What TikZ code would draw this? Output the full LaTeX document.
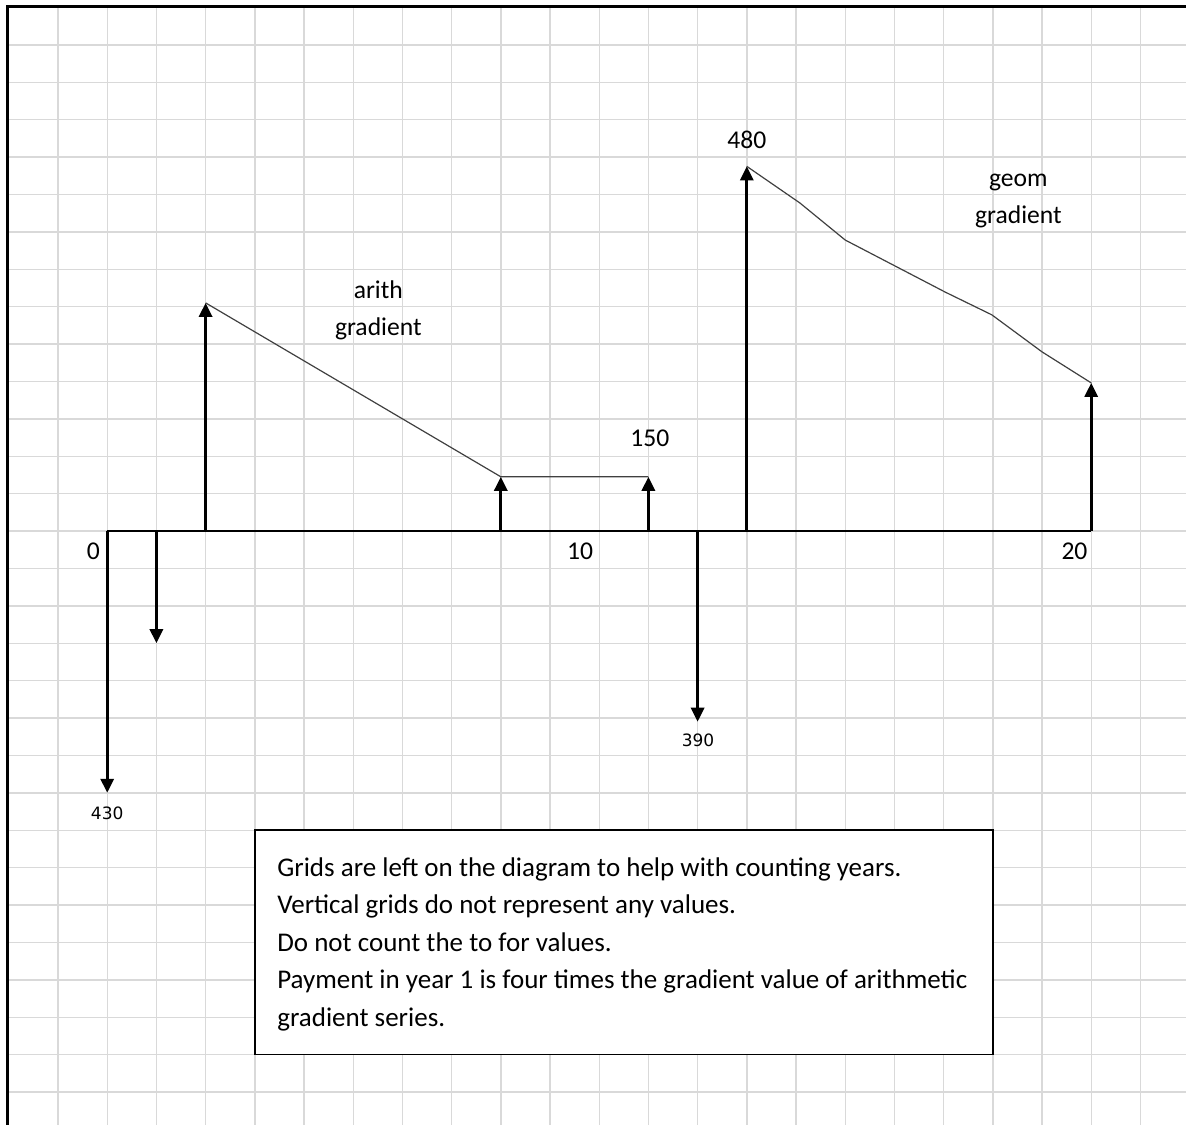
\documentclass[tikz,border=0pt]{standalone}
\usepackage{fontspec}
\setmainfont{Carlito}
\newfontfamily\smallfnt{DejaVu Sans}
\usetikzlibrary{arrows.meta}
\newcommand\lblsize{\fontsize{12.8}{18.5}\selectfont}
\tikzset{
  gridline/.style={draw=black!15, line width=0.7pt},
  framing/.style={line width=1.5pt, line cap=rect},
  flow/.style={line width=1.5pt, -{Triangle[width=6.5pt,length=7pt]}},
  trend/.style={draw=black!75, line width=0.6pt},
  lbl/.style={font=\lblsize, inner sep=0pt, align=center},
  amt/.style={font=\smallfnt\fontsize{8.5}{10}\selectfont, inner sep=0pt}
}
\begin{document}
\begin{tikzpicture}[x=24.6pt, y=18.7pt]
\useasboundingbox (-2.179,-15.88) rectangle (21.927,14.198);
% background grid
\foreach\x in{-1,...,21} \draw[gridline] (\x,-15.9)--(\x,14);
\foreach\y in{-15,...,13} \draw[gridline] (-2,\y)--(21.93,\y);
\draw[framing] (-2.02,-15.9)--(-2.02,14.02)--(21.93,14.02);
% time line
\coordinate (start) at (0,0);
\coordinate (end) at (20,0);
\draw[line width=0.8pt] (start)--(end);
% cash flows: year/amount
\foreach\n/\v in{0/-7, 1/-3, 2/6.1, 8/1.45, 11/1.45, 12/-5.1, 13/9.75, 20/3.96}{
  \coordinate (b\n) at (\n,0);
  \coordinate (t\n) at (\n,\v);
  \draw[flow] (b\n)--(t\n);
}
% gradients
\draw[trend] (t2)--(t8)--(t11);
\coordinate (g1) at (14.08,8.77);
\coordinate (g2) at (15.0,7.78);
\coordinate (g3) at (17.03,6.39);
\coordinate (g4) at (17.98,5.78);
\coordinate (g5) at (19.0,4.79);
\draw[trend] (t13)--(g1)--(g2)--(g3)--(g4)--(g5)--(t20);
% labels
\node[lbl] (y0) at (-0.28,-0.53) {0};
\node[lbl] (y10) at (9.61,-0.53) {10};
\node[lbl] (y20) at (19.66,-0.53) {20};
\node[lbl] (v150) at (11.03,2.49) {150};
\node[lbl] (v480) at (13,10.45) {480};
\node[lbl] (arith) at (5.51,5.89) {arith\\gradient};
\node[lbl] (geom) at (18.52,8.83) {geom\\gradient};
\node[amt] (v430) at (0,-7.54) {430};
\node[amt] (v390) at (12.01,-5.59) {390};
% note box
\draw[fill=white, line width=0.8pt] (3,-8) rectangle (18,-14);
\node[lbl, align=left, anchor=west, font=\fontsize{13.5}{18.7}\selectfont] (note) at (3.45,-11.05)
  {Grids are left on the diagram to help with counting years.\\
   Vertical grids do not represent any values.\\
   Do not count the to for values.\\
   Payment in year 1 is four times the gradient value of arithmetic\\
   gradient series.};
\end{tikzpicture}
\end{document}
